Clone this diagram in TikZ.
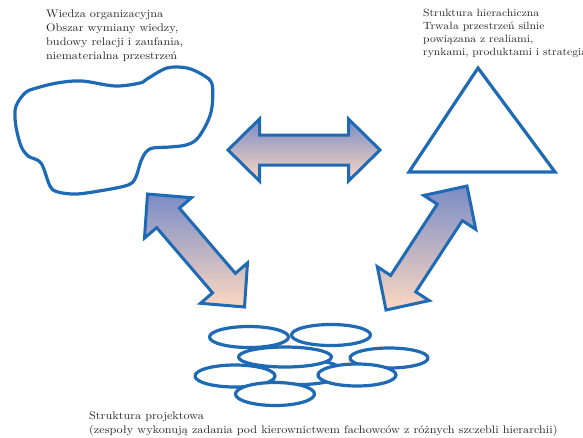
\documentclass[tikz,border=0pt]{standalone}
\usepackage{fontspec}
\setmainfont{lmroman10-regular.otf}[FakeStretch=1.11]
\usetikzlibrary{calc,shapes.geometric}

\definecolor{edgeblue}{RGB}{30,106,180}
\definecolor{shadetop}{RGB}{122,140,198}
\definecolor{shadebot}{RGB}{253,216,193}
\definecolor{inkgray}{RGB}{38,38,38}

% arrow geometry: head length, half head width, half shaft width
\def\headlen{31.5pt}
\def\headhalf{31pt}
\def\shafthalf{15pt}

\tikzset{
  outline/.style={draw=edgeblue, line width=3.2pt, line join=round},
  arrowbody/.style={draw=edgeblue, line width=3pt, line join=miter,
    top color=shadetop, bottom color=shadebot},
  team/.style={ellipse, outline, fill=white, inner sep=0pt},
  caption/.style={anchor=north west, inner sep=0pt, align=left,
    text=inkgray, font=\fontsize{11}{14}\selectfont},
}

% double-headed block arrow between two named points
\newcommand\dualarrow[2]{%
  \path[arrowbody] (#1)
    -- ($(#1)!\headlen!(#2)!\headhalf!90:(#2)$)
    -- ($(#1)!\headlen!(#2)!\shafthalf!90:(#2)$)
    -- ($(#2)!\headlen!(#1)!\shafthalf!-90:(#1)$)
    -- ($(#2)!\headlen!(#1)!\headhalf!-90:(#1)$)
    -- (#2)
    -- ($(#2)!\headlen!(#1)!\headhalf!90:(#1)$)
    -- ($(#2)!\headlen!(#1)!\shafthalf!90:(#1)$)
    -- ($(#1)!\headlen!(#2)!\shafthalf!-90:(#2)$)
    -- ($(#1)!\headlen!(#2)!\headhalf!-90:(#2)$)
    -- cycle;}

\begin{document}
\begin{tikzpicture}[x=1pt, y=-1pt]
  \useasboundingbox (0,0) rectangle (583,437);

  % organisational knowledge: irregular cloud
  \draw[outline] plot[smooth cycle, tension=0.55] coordinates {
    (18,102) (25,93) (33,89) (57,83) (82,81) (115,86) (140,83) (147,79)
    (167,68) (187,68) (203,75) (212,84) (212,107) (207,123) (197,139)
    (186,145) (170,147) (153,148) (146,152) (141,161) (137,174) (133,182)
    (125,186) (105,190) (77,194) (58,192) (50,186) (41,163) (28,156)
    (21,146) (16,127) (15,111)};
  \coordinate (cloud) at (112,135);

  % hierarchical structure: triangle
  \coordinate (hier) at (482,140);
  \draw[outline, line join=miter] (478,68) -- (409,172) -- (555,172) -- cycle;

  % project structure: overlapping team ellipses, back to front
  \node[team, minimum width=87pt, minimum height=25pt] (t8) at (300,372) {};
  \node[team, minimum width=93pt, minimum height=20pt] (t3) at (285,357) {};
  \node[team, minimum width=78pt, minimum height=20pt] (t4) at (389,358) {};
  \node[team, minimum width=79pt, minimum height=21pt] (t1) at (249,337) {};
  \node[team, minimum width=79pt, minimum height=21pt] (t2) at (331,335) {};
  \node[team, minimum width=80pt, minimum height=22pt] (t5) at (235,376) {};
  \node[team, minimum width=78pt, minimum height=22pt] (t6) at (357,375) {};
  \node[team, minimum width=79pt, minimum height=23pt] (t7) at (275,394) {};

  % arrow end points
  \coordinate (hA) at (228,150);
  \coordinate (hB) at (380,150);
  \coordinate (lA) at (147.5,194);
  \coordinate (lB) at (244.5,307);
  \coordinate (rA) at (467,186);
  \coordinate (rB) at (386,310);

  \dualarrow{hA}{hB}
  \dualarrow{lA}{lB}
  \dualarrow{rA}{rB}

  % captions
  \node[caption] (capknow) at (46,9.9)
    {Wiedza organizacyjna\\Obszar wymiany wiedzy,\\budowy relacji i zaufania,\\niematerialna przestrzeń};
  \node[caption, font=\fontsize{10.5}{13.2}\selectfont] (caphier) at (423,8.6)
    {Struktura hierachiczna\\Trwała przestrzeń silnie\\powiązana z realiami,\\rynkami, produktami i strategią};
  \node[caption] (capproj) at (89,411.4)
    {Struktura projektowa\\(zespoły wykonują zadania pod kierownictwem fachowców z różnych szczebli hierarchii)};
\end{tikzpicture}
\end{document}
